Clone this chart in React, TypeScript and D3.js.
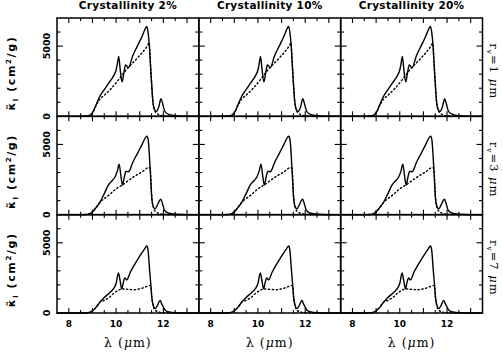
import React from "react";
import * as d3 from "d3";

// ---- data ----
const crystallinities = ["2%", "10%", "20%"];
const grainRadii = [1, 3, 7];
const xTickLabels = [8, 10, 12];
const yTickLabels = [0, 5000];

// total opacity (solid), r_v = 1 um
const totalR1: [number, number][] = [
  [7.5, 0], [8.5, 0], [8.8, 30], [9.0, 250], [9.15, 800], [9.32, 1450], [9.5, 1900],
  [9.7, 2400], [9.9, 2900], [10.0, 3300], [10.05, 3700], [10.11, 4270], [10.17, 3400],
  [10.25, 2450], [10.32, 3000], [10.4, 3650], [10.45, 3600], [10.52, 3450], [10.7, 4300],
  [10.9, 5000], [11.1, 5700], [11.25, 6300], [11.3, 6400], [11.35, 6000], [11.4, 5200],
  [11.45, 3800], [11.5, 2400], [11.56, 1000], [11.62, 500], [11.7, 350], [11.8, 650],
  [11.9, 1250], [11.97, 900], [12.05, 400], [12.2, 150], [12.5, 40], [13.0, 0], [13.5, 0],
];
// amorphous part (dotted), r_v = 1 um
const amorphR1: [number, number][] = [
  [7.5, 0], [8.5, 0], [8.8, 30], [9.0, 250], [9.15, 750], [9.3, 1200], [9.5, 1500],
  [9.8, 2000], [10.1, 2600], [10.3, 3050], [10.5, 3450], [10.9, 4150], [11.3, 4950],
  [11.4, 5200], [11.45, 3800], [11.5, 2400], [11.56, 1000], [11.62, 450], [11.7, 250],
  [11.8, 120], [11.9, 60], [12.1, 20], [12.5, 0], [13.5, 0],
];

const totalR3: [number, number][] = [
  [7.5, 0], [8.5, 0], [8.8, 20], [9.0, 200], [9.15, 500], [9.32, 900], [9.5, 1500],
  [9.67, 2100], [9.85, 2450], [9.96, 2700], [10.05, 3100], [10.13, 3600], [10.2, 2800],
  [10.27, 2100], [10.35, 2700], [10.42, 3100], [10.48, 3050], [10.55, 3100], [10.7, 3700],
  [10.9, 4350], [11.1, 5000], [11.25, 5500], [11.31, 5580], [11.36, 5300], [11.44, 3300],
  [11.51, 1200], [11.58, 550], [11.65, 420], [11.75, 700], [11.89, 1100], [11.96, 800],
  [12.05, 300], [12.2, 120], [12.5, 30], [13.0, 0], [13.5, 0],
];
const amorphR3: [number, number][] = [
  [7.5, 0], [8.5, 0], [8.8, 20], [9.0, 200], [9.15, 500], [9.3, 850], [9.5, 1150],
  [9.7, 1400], [9.9, 1700], [10.1, 1950], [10.3, 2150], [10.5, 2400], [10.8, 2750],
  [11.1, 3050], [11.37, 3350], [11.44, 3300], [11.51, 1200], [11.58, 500], [11.65, 250],
  [11.8, 100], [12.0, 30], [12.5, 0], [13.5, 0],
];

const totalR7: [number, number][] = [
  [7.5, 0], [8.5, 0], [8.8, 20], [9.0, 150], [9.15, 400], [9.32, 775], [9.5, 1100],
  [9.75, 1480], [9.9, 1750], [10.0, 2100], [10.1, 2850], [10.17, 2300], [10.24, 1720],
  [10.31, 2200], [10.37, 2500], [10.45, 2350], [10.6, 2900], [10.8, 3500], [11.0, 4050],
  [11.2, 4550], [11.3, 4770], [11.35, 4500], [11.42, 3000], [11.47, 2000], [11.51, 1130],
  [11.58, 500], [11.65, 310], [11.75, 550], [11.86, 895], [11.93, 650], [12.08, 200],
  [12.25, 70], [12.5, 20], [13.0, 0], [13.5, 0],
];
const amorphR7: [number, number][] = [
  [7.5, 0], [8.5, 0], [8.8, 20], [9.0, 150], [9.15, 400], [9.3, 750], [9.5, 900],
  [9.7, 1100], [9.9, 1400], [10.1, 1620], [10.25, 1720], [10.5, 1680], [10.8, 1660],
  [11.0, 1720], [11.2, 1820], [11.4, 1950], [11.47, 1950], [11.51, 1130], [11.58, 450],
  [11.65, 200], [11.8, 80], [12.0, 20], [12.5, 0], [13.5, 0],
];

const totals = [totalR1, totalR3, totalR7];
const amorphs = [amorphR1, amorphR3, amorphR7];

// ---- layout ----
const W = 503;
const H = 353;
const left = 57;
const right = 482.5;
const top = 18;
const bottom = 313;
const colW = (right - left) / 3;
const rowH = (bottom - top) / 3;
const sans = "'DejaVu Sans', sans-serif";
const serif = "'DejaVu Serif', serif";

function Panel({ col, row }: { col: number; row: number }) {
  const x0 = left + col * colW;
  const y0 = top + row * rowH;
  const x = d3.scaleLinear().domain([7.5, 13.5]).range([x0, x0 + colW]);
  const y = d3.scaleLinear().domain([0, 7000]).range([y0 + rowH, y0]);
  const line = d3
    .line<[number, number]>()
    .x((d) => x(d[0]))
    .y((d) => y(d[1]))
    .curve(d3.curveMonotoneX);

  const xMinor = d3.range(8, 13.01, 0.5);
  const yMinor = d3.range(1000, 7000, 1000);
  const ticks: React.ReactNode[] = [];
  xMinor.forEach((v, i) => {
    const major = Math.abs(v - Math.round(v)) < 1e-6;
    const len = major ? 5 : 3;
    const px = x(v);
    ticks.push(<line key={"b" + i} x1={px} x2={px} y1={y0 + rowH} y2={y0 + rowH - len} />);
    ticks.push(<line key={"t" + i} x1={px} x2={px} y1={y0} y2={y0 + len} />);
  });
  yMinor.forEach((v, i) => {
    const major = v === 5000;
    const len = major ? 6 : 3.5;
    const py = y(v);
    ticks.push(<line key={"l" + i} x1={x0} x2={x0 + len} y1={py} y2={py} />);
    ticks.push(<line key={"r" + i} x1={x0 + colW} x2={x0 + colW - len} y1={py} y2={py} />);
  });

  return (
    <g>
      <path d={line(amorphs[row]) || ""} fill="none" stroke="#000" strokeWidth={1.4}
        strokeDasharray="1.3 2.6" strokeLinecap="round" />
      <path d={line(totals[row]) || ""} fill="none" stroke="#000" strokeWidth={1.4}
        strokeLinejoin="round" />
      <g stroke="#000" strokeWidth={1.1}>{ticks}</g>
      <rect x={x0} y={y0} width={colW} height={rowH} fill="none" stroke="#000" strokeWidth={1.5} />
      {row === 2 &&
        xTickLabels.map((v) => (
          <text key={v} x={x(v)} y={y0 + rowH + 14} textAnchor="middle"
            fontFamily={sans} fontWeight="bold" fontSize={9}>
            {v}
          </text>
        ))}
      {col === 0 &&
        yTickLabels.map((v) => (
          <text key={v} transform={`translate(${x0 - 7},${y(v)}) rotate(-90)`} textAnchor="middle"
            fontFamily={sans} fontWeight="bold" fontSize={9.5}>
            {v}
          </text>
        ))}
    </g>
  );
}

export default function App() {
  const panels: React.ReactNode[] = [];
  for (let r = 0; r < 3; r++)
    for (let c = 0; c < 3; c++) panels.push(<Panel key={`${r}-${c}`} col={c} row={r} />);

  return (
    <svg width={W} height={H} style={{ position: "absolute", left: 0, top: 0, background: "#fff" }}>
      <rect width={W} height={H} fill="#fff" />
      {crystallinities.map((c, i) => (
        <text key={c} x={left + (i + 0.5) * colW} y={9} textAnchor="middle"
          fontFamily={sans} fontWeight="bold" fontSize={10.5} letterSpacing={0.3}>
          {`Crystallinity ${c}`}
        </text>
      ))}
      {panels}
      {crystallinities.map((c, i) => (
        <text key={"xl" + c} x={left + (i + 0.5) * colW} y={347} textAnchor="middle"
          fontFamily={serif} fontSize={12.5} letterSpacing={1}>
          λ (<tspan fontStyle="italic">μ</tspan>m)
        </text>
      ))}
      {grainRadii.map((r, i) => {
        const yc = top + (i + 0.5) * rowH;
        return (
          <g key={"row" + r}>
            <text transform={`translate(15,${yc + 6}) rotate(-90)`} textAnchor="middle"
              fontFamily={sans} fontWeight="bold" fontSize={11} letterSpacing={1.6}>
              κ̃<tspan fontSize={7} dy={3}>l</tspan>
              <tspan dy={-3}> (cm</tspan>
              <tspan fontSize={7} dy={-4}>2</tspan>
              <tspan dy={4}>/g)</tspan>
            </text>
            <text transform={`translate(490,${yc + 4}) rotate(90)`} textAnchor="middle"
              fontFamily={serif} fontSize={11.5} letterSpacing={1}>
              r<tspan fontSize={7.5} dy={3}>v</tspan>
              <tspan dy={-3}>{`=${r} `}</tspan>
              <tspan fontStyle="italic">μ</tspan>m
            </text>
          </g>
        );
      })}
    </svg>
  );
}
